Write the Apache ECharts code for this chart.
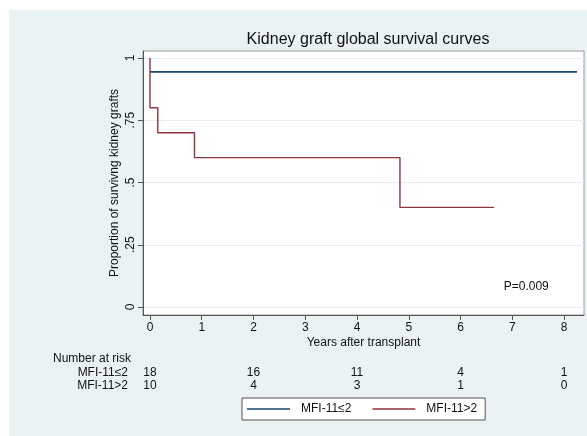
<!DOCTYPE html>
<html>
<head>
<meta charset="utf-8">
<script src="https://cdn.jsdelivr.net/npm/echarts@6/dist/echarts.min.js"></script>
<style>html,body{margin:0;padding:0;background:#fff}#c{width:587px;height:436px}</style>
</head>
<body>
<div id="c"></div>
<script>
// ---- data ----
const chartTitle = 'Kidney graft global survival curves';
const xTicks = [0, 1, 2, 3, 4, 5, 6, 7, 8];
const yTicks = [0, 0.25, 0.5, 0.75, 1];
const yTickLabels = ['0', '.25', '.5', '.75', '1'];
const groupNames = ['MFI-11≤2', 'MFI-11>2'];
const lowTimes = [0, 8.25];
const lowSurv = [0.944, 0.944];
const highTimes = [0, 0, 0.15, 0.86, 4.83, 6.65];
const highSurv = [1, 0.8, 0.7, 0.6, 0.4, 0.4];
const riskTimes = [0, 2, 4, 6, 8];
const riskLow = [18, 16, 11, 4, 1];
const riskHigh = [10, 4, 3, 1, 0];
const pValueText = 'P=0.009';

const FONT = '"Liberation Sans", Arial, Helvetica, sans-serif';
const BLUE = '#1a476f';
const RED = '#90353b';
const chart = echarts.init(document.getElementById('c'), null, {renderer: 'canvas'});

const option = {
  animation: false,
  backgroundColor: '#ffffff',
  textStyle: {fontFamily: FONT},
  title: {
    text: chartTitle, left: 363, top: 27, textAlign: 'center',
    textStyle: {fontFamily: FONT, fontSize: 16, fontWeight: 'normal', color: '#111'}
  },
  grid: {
    left: 143, top: 51, width: 441, height: 264,
    show: true, backgroundColor: '#ffffff', borderColor: '#9a9a9a', borderWidth: 1
  },
  legend: {
    left: 242, top: 398, orient: 'horizontal',
    icon: 'rect', itemWidth: 43, itemHeight: 1.6, itemGap: 21,
    padding: [5, 8, 5, 5],
    backgroundColor: '#ffffff', borderColor: '#555', borderWidth: 1,
    textStyle: {fontFamily: FONT, fontSize: 12, color: '#111', padding: [0, 0, 0, 6]},
    data: groupNames
  },
  xAxis: {
    type: 'value', min: -0.135, max: 8.386,
    name: 'Years after transplant', nameLocation: 'middle', nameGap: 22, nameMoveOverlap: false,
    nameTextStyle: {fontFamily: FONT, fontSize: 12, color: '#111'},
    axisLine: {show: true, onZero: false, lineStyle: {color: '#555', width: 1}},
    axisTick: {show: true, length: 5, customValues: xTicks, lineStyle: {color: '#555'}},
    axisLabel: {customValues: xTicks, margin: 7, fontFamily: FONT, fontSize: 12, color: '#111'},
    splitLine: {show: false}
  },
  yAxis: {
    type: 'value', min: -0.032, max: 1.028,
    name: 'Proportion of survivng kidney grafts', nameLocation: 'middle', nameGap: 22, nameRotate: 90,
    nameMoveOverlap: false,
    nameTextStyle: {fontFamily: FONT, fontSize: 12, color: '#111'},
    axisLine: {show: true, onZero: false, lineStyle: {color: '#555', width: 1}},
    axisTick: {show: true, length: 5, customValues: yTicks, lineStyle: {color: '#555'}},
    axisLabel: {
      customValues: yTicks, rotate: 90, margin: 6, fontFamily: FONT, fontSize: 12, color: '#111',
      formatter: v => { const i = yTicks.findIndex(t => Math.abs(t - v) < 1e-9); return i >= 0 ? yTickLabels[i] : ''; }
    },
    splitLine: {show: true, lineStyle: {color: '#e6eef0', width: 1}}
  },
  series: [
    {
      name: groupNames[0], type: 'line', step: 'end', symbol: 'none',
      lineStyle: {color: BLUE, width: 1.6}, itemStyle: {color: BLUE},
      data: lowTimes.map((t, i) => [t, lowSurv[i]])
    },
    {
      name: groupNames[1], type: 'line', step: 'end', symbol: 'none',
      lineStyle: {color: RED, width: 1.4}, itemStyle: {color: RED},
      data: highTimes.map((t, i) => [t, highSurv[i]])
    }
  ]
};
chart.setOption(option);

// background panel + risk table + annotation
const g = [];
g.push({type: 'rect', z: -10, silent: true, shape: {x: 9, y: 10, width: 578, height: 426}, style: {fill: '#eaf2f3'}});
g.push({type: 'text', z: 10, style: {text: 'Number at risk', x: 53, y: 359, textVerticalAlign: 'middle', font: '12px ' + FONT, fill: '#111'}});
const rowY = [373, 386];
const rows = [riskLow, riskHigh];
rows.forEach((row, r) => {
  g.push({type: 'text', z: 10, style: {text: groupNames[r], x: 128, y: rowY[r], textAlign: 'right', textVerticalAlign: 'middle', font: '12px ' + FONT, fill: '#111'}});
  riskTimes.forEach((t, i) => {
    const px = chart.convertToPixel({xAxisIndex: 0}, t);
    g.push({type: 'text', z: 10, style: {text: String(row[i]), x: px, y: rowY[r], textAlign: 'center', textVerticalAlign: 'middle', font: '12px ' + FONT, fill: '#111'}});
  });
});
const pPos = chart.convertToPixel({xAxisIndex: 0, yAxisIndex: 0}, [7.27, 0.08]);
g.push({type: 'text', z: 10, style: {text: pValueText, x: pPos[0], y: pPos[1], textAlign: 'center', textVerticalAlign: 'middle', font: '12px ' + FONT, fill: '#111'}});
chart.setOption({graphic: g});
</script>
</body>
</html>
